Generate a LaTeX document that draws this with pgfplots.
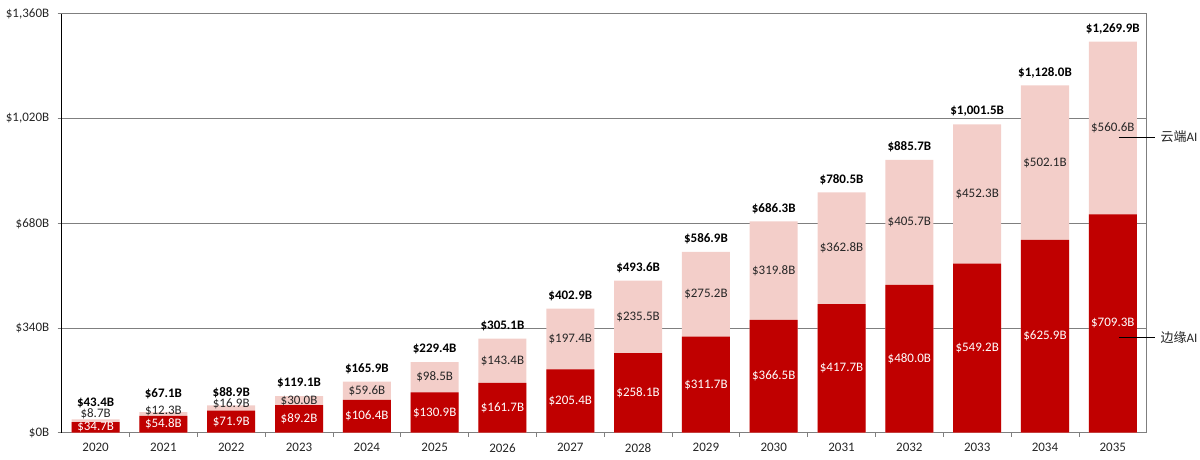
\documentclass[border=0pt]{standalone}
\usepackage{pgfplots}
\pgfplotsset{compat=1.18}
\usepackage{pgfplotstable}
\usepackage{fontspec}
\setmainfont{Carlito}
\newfontfamily\cjk{Noto Sans CJK SC}
\usetikzlibrary{calc}
\definecolor{edgered}{HTML}{C00000}
\definecolor{cloudpink}{HTML}{F3CEC9}
\definecolor{gridgray}{HTML}{7F7F7F}
\definecolor{labgray}{HTML}{262626}
\newcommand{\lf}{\fontsize{13}{15}\selectfont}
% cy, ty: label positions (0 = default)
\pgfplotstableread{
x edge cloud total tlab cy ty
0 34.7 8.7 43.4 43.4 61 97
1 54.8 12.3 67.1 67.1 71 128
2 71.9 16.9 88.9 88.9 95 0
3 89.2 30.0 119.1 119.1 0 0
4 106.4 59.6 165.9 165.9 0 0
5 130.9 98.5 229.4 229.4 0 0
6 161.7 143.4 305.1 305.1 0 0
7 205.4 197.4 402.9 402.9 0 0
8 258.1 235.5 493.6 493.6 0 0
9 311.7 275.2 586.9 586.9 0 0
10 366.5 319.8 686.3 686.3 0 0
11 417.7 362.8 780.5 780.5 0 0
12 480.0 405.7 885.7 885.7 0 0
13 549.2 452.3 1001.5 1,001.5 0 0
14 625.9 502.1 1128.0 1,128.0 0 0
15 709.3 560.6 1269.9 1,269.9 0 0
}\datatable
\begin{document}
\begin{tikzpicture}
\begin{axis}[
  name=ax,
  scale only axis,
  width=1085pt, height=418.8pt,
  xmin=-0.5, xmax=15.5,
  ymin=0, ymax=1360,
  clip=false,
  axis line style={gridgray, line width=0.8pt},
  xtick={0,...,15},
  xticklabels={2020,2021,2022,2023,2024,2025,2026,2027,2028,2029,2030,2031,2032,2033,2034,2035},
  minor xtick={0.5,1.5,...,14.5},
  major x tick style={draw=none},
  minor x tick style={gridgray, line width=0.8pt},
  minor tick length=4pt,
  ytick={0,340,680,1020,1360},
  yticklabels={\$0B,\$340B,\$680B,\$1{,}020B,\$1{,}360B},
  y tick style={gridgray, line width=0.8pt},
  major tick length=4pt,
  tick align=outside,
  xtick pos=bottom, ytick pos=left,
  ymajorgrids,
  grid style={gridgray, line width=0.8pt},
  ticklabel style={font=\lf, color=labgray},
  yticklabel style={xshift=-5pt},
  xticklabel style={yshift=-3pt},
]
\addplot[ybar, bar width=0.708, bar shift=0pt, fill=cloudpink, draw=none] table[x=x, y=total] {\datatable};
\addplot[ybar, bar width=0.708, bar shift=0pt, fill=edgered, draw=none] table[x=x, y=edge] {\datatable};
% labels
\addplot[draw=none, mark=none, point meta=explicit symbolic,
  nodes near coords={\$\pgfplotspointmeta B},
  nodes near coords style={anchor=center, text=white, font=\lf, inner sep=0pt}]
  table[x=x, y expr=\thisrow{edge}/2, meta=edge] {\datatable};
\addplot[draw=none, mark=none, point meta=explicit symbolic,
  nodes near coords={\$\pgfplotspointmeta B},
  nodes near coords style={anchor=center, text=labgray, font=\lf, inner sep=0pt}]
  table[x=x, y expr={\thisrow{cy}>0 ? \thisrow{cy} : \thisrow{edge}+\thisrow{cloud}/2}, meta=cloud] {\datatable};
\addplot[draw=none, mark=none, point meta=explicit symbolic,
  nodes near coords={\$\pgfplotspointmeta B},
  nodes near coords style={anchor=center, text=black, font=\bfseries\lf, inner sep=0pt}]
  table[x=x, y expr={\thisrow{ty}>0 ? \thisrow{ty} : \thisrow{total}+42}, meta=tlab] {\datatable};
% left axis line
\draw[black, line width=1.4pt] (rel axis cs:0,0) -- (rel axis cs:0,1);
% series annotations
\draw[black, line width=1pt] (axis cs:15.09,960) -- (axis cs:15.625,960)
  node[anchor=west, inner sep=0pt, xshift=5pt, font=\lf, text=labgray] {{\cjk 云端}AI};
\draw[black, line width=1pt] (axis cs:15.09,308.5) -- (axis cs:15.625,308.5)
  node[anchor=west, inner sep=0pt, xshift=5pt, font=\lf, text=labgray] {{\cjk 边缘}AI};
\end{axis}
\pgfresetboundingbox
\path[use as bounding box] ($(ax.south west)+(-61.7pt,-26.3pt)$) rectangle ($(ax.north east)+(53.3pt,13.9pt)$);
\end{tikzpicture}
\end{document}
